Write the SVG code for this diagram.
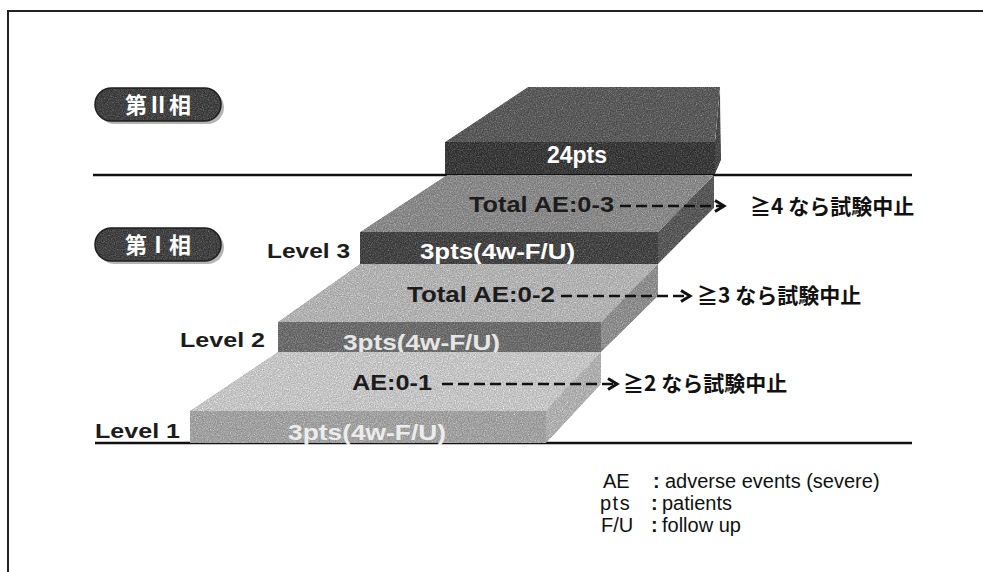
<svg xmlns="http://www.w3.org/2000/svg" width="983" height="572" viewBox="0 0 983 572">
<style>
.rule{stroke:#111;stroke-width:2.5;fill:none}
.lbl{font-family:"Liberation Sans","Noto Sans CJK JP",sans-serif;font-weight:bold}
.dark{fill:#1c1c1c}
.wht{fill:#ffffff}
.jp{font-family:"Noto Sans CJK JP","Liberation Sans",sans-serif;font-weight:bold;font-size:21px;fill:#111}
.leg{font-family:"Liberation Sans","Noto Sans CJK JP",sans-serif;font-size:20px;fill:#111}
.dash{stroke:#111;stroke-width:2.6;stroke-dasharray:11 5;fill:none;marker-end:url(#chev)}
.face{filter:url(#grain)}
</style>
<defs>
<marker id="chev" markerWidth="14" markerHeight="14" refX="11" refY="7" orient="auto" markerUnits="userSpaceOnUse">
<polyline points="2,1.5 11,7 2,12.5" fill="none" stroke="#111" stroke-width="3"/>
</marker>
<filter id="grain" x="0" y="0" width="100%" height="100%" color-interpolation-filters="sRGB">
<feTurbulence type="fractalNoise" baseFrequency="0.85" numOctaves="2" seed="4" result="n"/>
<feColorMatrix in="n" type="saturate" values="0" result="g"/>
<feComposite in="SourceGraphic" in2="g" operator="arithmetic" k1="0" k2="1" k3="0.6" k4="-0.155" result="m"/>
<feComposite in="m" in2="SourceGraphic" operator="in"/>
</filter>
</defs>
<rect width="983" height="572" fill="#fff"/>
<path d="M8,572 V11 H983" fill="none" stroke="#222" stroke-width="2"/>
<line class="rule" x1="93" y1="175" x2="912" y2="175"/>
<line class="rule" x1="95" y1="443" x2="912" y2="443"/>

<g id="pill-phase2">
<rect x="98" y="91" width="126" height="33" rx="16.5" fill="#b5b5b5"/>
<rect class="face" x="95" y="88" width="126" height="33" rx="16.5" fill="#444"/>
<rect x="95" y="88" width="126" height="33" rx="16.5" fill="none" stroke="#1e1e1e" stroke-width="1.5"/>
<text x="158" y="113" text-anchor="middle" class="lbl wht" font-size="22">第Ⅱ相</text>
</g>
<g id="pill-phase1">
<rect x="98" y="231" width="126" height="33" rx="16.5" fill="#b5b5b5"/>
<rect class="face" x="95" y="228" width="126" height="33" rx="16.5" fill="#444"/>
<rect x="95" y="228" width="126" height="33" rx="16.5" fill="none" stroke="#1e1e1e" stroke-width="1.5"/>
<text x="158" y="253" text-anchor="middle" class="lbl wht" font-size="22">第Ⅰ相</text>
</g>

<g id="phase2-block">
<polygon class="face" points="445,142 528,87 720,87 715,142" fill="#5c5c5c"/>
<polygon class="face" points="715,142 720,87 721,160 715,174" fill="#4a4a4a"/>
<rect class="face" x="445" y="142" width="270" height="32" fill="#3c3c3c"/>
<text x="577" y="163" text-anchor="middle" class="lbl wht" font-size="23">24pts</text>
</g>

<g id="level3">
<polygon class="face" points="360,232 447,175 714,175 658,232" fill="#8a8a8a"/>
<polygon class="face" points="658,232 714,175 714,208 658,264" fill="#5a5a5a"/>
<rect class="face" x="360" y="232" width="298" height="32" fill="#464646"/>
<text x="267" y="258" class="lbl dark" font-size="21" textLength="83" lengthAdjust="spacingAndGlyphs">Level 3</text>
<text x="420" y="259" class="lbl wht" font-size="22" textLength="155" lengthAdjust="spacingAndGlyphs">3pts(4w-F/U)</text>
<text x="469" y="212" class="lbl dark" font-size="22" textLength="145" lengthAdjust="spacingAndGlyphs">Total AE:0-3</text>
</g>

<g id="level2">
<polygon class="face" points="278,322 360,264 658,264 601,322" fill="#b3b3b3"/>
<polygon class="face" points="601,322 658,264 658,296 601,352" fill="#8e8e8e"/>
<rect class="face" x="278" y="322" width="323" height="30" fill="#6e6e6e"/>
<text x="180" y="347" class="lbl dark" font-size="21" textLength="85" lengthAdjust="spacingAndGlyphs">Level 2</text>
<text x="343" y="350" class="lbl" fill="#e6e6e6" font-size="22" textLength="157" lengthAdjust="spacingAndGlyphs">3pts(4w-F/U)</text>
<text x="407" y="302" class="lbl dark" font-size="22" textLength="148" lengthAdjust="spacingAndGlyphs">Total AE:0-2</text>
</g>

<g id="level1">
<polygon class="face" points="190,411 278,352 601,352 546,411" fill="#c6c6c6"/>
<polygon class="face" points="546,411 601,352 601,384 546,443" fill="#b0b0b0"/>
<rect class="face" x="190" y="411" width="356" height="32" fill="#a2a2a2"/>
<text x="95" y="438" class="lbl dark" font-size="21" textLength="85" lengthAdjust="spacingAndGlyphs">Level 1</text>
<text x="288" y="440" class="lbl" fill="#ececec" font-size="22" textLength="158" lengthAdjust="spacingAndGlyphs">3pts(4w-F/U)</text>
<text x="352" y="390" class="lbl dark" font-size="22" textLength="80" lengthAdjust="spacingAndGlyphs">AE:0-1</text>
</g>

<g id="connectors">
<line class="dash" x1="620" y1="206" x2="724" y2="206"/>
<line class="dash" x1="561" y1="296" x2="690" y2="296"/>
<line class="dash" x1="442" y1="384" x2="617" y2="384"/>
</g>

<g id="stop4"><text x="750" y="214" class="jp">≧4 なら試験中止</text></g>
<g id="stop3"><text x="697" y="303" class="jp">≧3 なら試験中止</text></g>
<g id="stop2"><text x="623" y="391" class="jp">≧2 なら試験中止</text></g>

<g id="legend">
<text class="leg" y="488"><tspan x="603">AE</tspan><tspan x="653" font-weight="bold">:</tspan><tspan x="665">adverse events (severe)</tspan></text>
<text class="leg" y="510"><tspan x="600" letter-spacing="1.5">pts</tspan><tspan x="651" font-weight="bold">:</tspan><tspan x="662">patients</tspan></text>
<text class="leg" y="532"><tspan x="601">F/U</tspan><tspan x="651" font-weight="bold">:</tspan><tspan x="662">follow up</tspan></text>
</g>
</svg>
